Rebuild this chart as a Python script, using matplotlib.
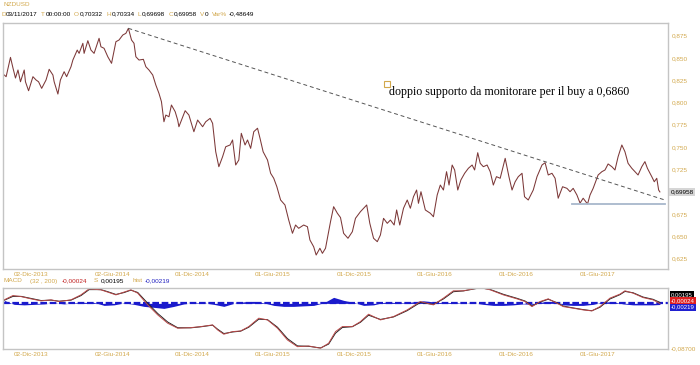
import numpy as np
import matplotlib.pyplot as plt
from matplotlib.ticker import FuncFormatter

# bar index (trading days from start) and close price
day = [0, 3, 10, 14, 18, 22, 26, 32, 34, 39,
       46, 51, 55, 60, 67, 72, 78, 80, 86, 90,
       96, 100, 107, 110, 117, 120, 126, 128, 134, 139,
       144, 152, 155, 160, 166, 172, 179, 184, 190, 195,
       199, 204, 208, 211, 216, 223, 227, 232, 238, 243,
       248, 252, 256, 259, 264, 268, 274, 278, 280, 290,
       296, 304, 310, 318, 323, 330, 334, 339, 344, 350,
       355, 362, 366, 371, 376, 380, 386, 390, 395, 400,
       406, 410, 415, 422, 427, 432, 437, 443, 450, 456,
       462, 467, 472, 480, 486, 490, 496, 500, 506, 510,
       515, 523, 528, 534, 539, 544, 551, 558, 563, 571,
       581, 586, 592, 598, 603, 608, 614, 619, 625, 629,
       634, 640, 646, 651, 656, 661, 664, 668, 675, 683,
       688, 694, 699, 704, 709, 713, 718, 722, 727, 732,
       738, 744, 750, 754, 759, 763, 768, 774, 779, 784,
       789, 795, 803, 809, 814, 819, 824, 830, 834, 840,
       848, 854, 862, 867, 872, 878, 883, 888, 895, 902,
       907, 912, 918, 923, 928, 935, 939, 944, 952, 958,
       963, 968, 974, 979, 984, 990, 995, 1000, 1006, 1011,
       1016, 1022, 1027, 1031, 1038, 1042, 1046, 1049, 1051]
close = [0.8309, 0.8290, 0.8507, 0.8387, 0.8275, 0.8365, 0.8233, 0.8365, 0.8233, 0.8132,
         0.8290, 0.8253, 0.8233, 0.8159, 0.8253, 0.8373, 0.8309, 0.8233, 0.8095, 0.8253,
         0.8346, 0.8290, 0.8402, 0.8477, 0.8589, 0.8552, 0.8665, 0.8552, 0.8694, 0.8589,
         0.8552, 0.8721, 0.8626, 0.8609, 0.8514, 0.8440, 0.8683, 0.8702, 0.8758, 0.8777,
         0.8833, 0.8702, 0.8665, 0.8514, 0.8477, 0.8485, 0.8402, 0.8365, 0.8309, 0.8196,
         0.8103, 0.8009, 0.7784, 0.7859, 0.7840, 0.7972, 0.7897, 0.7803, 0.7728, 0.7908,
         0.7859, 0.7672, 0.7803, 0.7728, 0.7784, 0.7822, 0.7766, 0.7447, 0.7279, 0.7391,
         0.7503, 0.7523, 0.7579, 0.7298, 0.7354, 0.7654, 0.7523, 0.7579, 0.7485, 0.7672,
         0.7711, 0.7598, 0.7447, 0.7354, 0.7205, 0.7149, 0.7054, 0.6905, 0.6849, 0.6680,
         0.6531, 0.6624, 0.6587, 0.6624, 0.6605, 0.6456, 0.6380, 0.6287, 0.6363, 0.6306,
         0.6363, 0.6661, 0.6830, 0.6756, 0.6708, 0.6531, 0.6475, 0.6549, 0.6699, 0.6774,
         0.6849, 0.6643, 0.6475, 0.6437, 0.6512, 0.6699, 0.6643, 0.6680, 0.6624, 0.6793,
         0.6624, 0.6812, 0.6905, 0.6812, 0.6942, 0.7017, 0.6868, 0.6998, 0.6793, 0.6756,
         0.6717, 0.6961, 0.7073, 0.7017, 0.7223, 0.7073, 0.7298, 0.7242, 0.7017, 0.7130,
         0.7205, 0.7261, 0.7298, 0.7242, 0.7436, 0.7317, 0.7279, 0.7298, 0.7223, 0.7073,
         0.7167, 0.7149, 0.7373, 0.7167, 0.7017, 0.7110, 0.7167, 0.7205, 0.6942, 0.6905,
         0.7017, 0.7167, 0.7298, 0.7324, 0.7186, 0.7205, 0.7149, 0.6925, 0.7054, 0.7036,
         0.6998, 0.7036, 0.6961, 0.6870, 0.6925, 0.6860, 0.6961, 0.7036, 0.7186, 0.7223,
         0.7242, 0.7310, 0.7279, 0.7242, 0.7391, 0.7523, 0.7447, 0.7317, 0.7261, 0.7223,
         0.7186, 0.7279, 0.7336, 0.7261, 0.7167, 0.7110, 0.7149, 0.7017, 0.69958]

# drawn lines
trend_day = [199, 1059]
trend_px = [0.8833, 0.6905]
support_day = [910, 1059]
support_px = [0.6860, 0.6860]

# MACD (32, 200) and signal
macd_day = [0, 14, 27, 43, 59, 75, 88, 107, 123, 136, 155, 166, 179, 192, 203, 214,
            230, 246, 262, 278, 299, 315, 334, 342, 352, 366, 379, 392, 408, 422, 438,
            454, 470, 488, 507, 520, 531, 542, 558, 571, 584, 603, 624, 646, 667, 688,
            704, 720, 736, 752, 763, 779, 800, 822, 835, 846, 859, 872, 886, 896, 912,
            928, 942, 955, 971, 987, 995, 1008, 1024, 1040, 1051]
macd = [0.0068, 0.0151, 0.0131, 0.0087, 0.0048, 0.0068, 0.0035, 0.0068, 0.0164, 0.0280,
        0.0261, 0.0217, 0.0164, 0.0217, 0.0261, 0.0197, -0.0029, -0.0222, -0.0383, -0.0479,
        -0.0468, -0.0448, -0.0416, -0.0512, -0.0595, -0.0545, -0.0532, -0.0448, -0.0286, -0.0319,
        -0.0479, -0.0706, -0.0835, -0.0822, -0.0866, -0.0769, -0.0545, -0.0448, -0.0448, -0.0352,
        -0.0209, -0.0319, -0.0255, -0.0126, 0.0035, -0.0029, 0.0101, 0.0242, 0.0242, 0.0280,
        0.0305, 0.0261, 0.0164, 0.0087, 0.0035, -0.0062, 0.0035, 0.0087, 0.0004, -0.0062,
        -0.0093, -0.0126, -0.0145, -0.0062, 0.0101, 0.0178, 0.0242, 0.0197, 0.0112, 0.0068,
        -0.00024]
signal = [0.0060, 0.0135, 0.0135, 0.0095, 0.0055, 0.0062, 0.0042, 0.0062, 0.0150, 0.0265,
          0.0265, 0.0225, 0.0172, 0.0208, 0.0255, 0.0210, 0.0002, -0.0195, -0.0360, -0.0470,
          -0.0472, -0.0452, -0.0420, -0.0498, -0.0582, -0.0552, -0.0536, -0.0460, -0.0305, -0.0314,
          -0.0460, -0.0680, -0.0820, -0.0828, -0.0860, -0.0785, -0.0575, -0.0465, -0.0450, -0.0365,
          -0.0228, -0.0310, -0.0262, -0.0140, 0.0018, -0.0020, 0.0085, 0.0225, 0.0240, 0.0275,
          0.0300, 0.0268, 0.0175, 0.0097, 0.0045, -0.0050, 0.0025, 0.0080, 0.0012, -0.0052,
          -0.0088, -0.0120, -0.0142, -0.0075, 0.0085, 0.0168, 0.0230, 0.0205, 0.0122, 0.0078,
          0.00195]

hist_day = list(range(0, 1041, 16)) + [1051]
hist = [0.0058, -0.0019, -0.0029, -0.0019, -0.0010, 0.0010, -0.0010, 0.0010, 0.0019, 0.0019,
        -0.0039, -0.0029, 0.0010, -0.0019, -0.0058, -0.0077, -0.0097, -0.0058, -0.0010, 0.0010,
        0.0010, -0.0019, -0.0058, 0.0000, 0.0029, 0.0039, 0.0010, -0.0039, -0.0058, -0.0058,
        -0.0048, -0.0039, 0.0010, 0.0116, 0.0058, 0.0019, -0.0039, -0.0029, 0.0019, 0.0019,
        0.0010, 0.0029, 0.0048, 0.0029, 0.0010, 0.0019, 0.0000, 0.0010, -0.0019, -0.0039,
        -0.0039, -0.0029, -0.0010, -0.0019, 0.0029, 0.0039, -0.0029, -0.0039, -0.0039, -0.0019,
        0.0029, 0.0029, -0.0010, -0.0029, -0.0029, -0.0029, -0.00219]

tick_day = [15, 145, 274, 402, 533, 662, 792, 923]
tick_lab = ["02-Dic-2013", "02-Giu-2014", "01-Dic-2014", "01-Giu-2015",
            "01-Dic-2015", "01-Giu-2016", "01-Dic-2016", "01-Giu-2017"]
price_ticks = [0.625, 0.650, 0.675, 0.725, 0.750, 0.775, 0.800, 0.825, 0.850, 0.875]

gold = '#d2a84c'
frame = '#c4c4c4'
sans = 'Liberation Sans'
fs = 4.6

fig = plt.figure(figsize=(7, 3.65), dpi=100)
ax = fig.add_axes([3/700, 96/365, 665/700, 246/365])
ax2 = fig.add_axes([3/700, 16/365, 665/700, 61.5/365])

comma = FuncFormatter(lambda v, p: f"{v:.3f}".replace('.', ','))

for a in (ax, ax2):
    for s in a.spines.values():
        s.set_color(frame)
        s.set_linewidth(1)
    a.yaxis.tick_right()
    a.tick_params(axis='both', length=0, labelsize=fs, colors=gold, pad=2)
    a.set_xlim(-2, 1064)
    a.set_xticks(tick_day)
    a.set_xticklabels(tick_lab, ha='left', family=sans)

# price panel
ax.plot(day, close, color='#7c3838', lw=0.75)
ax.plot(trend_day, trend_px, color='#555555', lw=0.7, dashes=(4, 3))
ax.plot(support_day, support_px, color='#a8b8cc', lw=1.3)
ax.set_ylim(0.6130, 0.8893)
ax.set_yticks(price_ticks)
ax.yaxis.set_major_formatter(comma)
ax.tick_params(axis='y', pad=3)
for lab in ax.get_yticklabels():
    lab.set_family(sans)
ax.text(1.004, 0.69958, "0,69958", transform=ax.get_yaxis_transform(),
        fontsize=fs, family=sans, color='black', va='center', ha='left',
        bbox=dict(facecolor='#d6d6d6', edgecolor='none', pad=1.2))

ax.plot([614], [0.8208], marker='s', ms=5, mfc='none', mec=gold, mew=0.8)
ax.text(616, 0.8115, "doppio supporto da monitorare per il buy a 0,6860",
        family='Liberation Serif', fontsize=8.6, color='black', va='center', ha='left')

# MACD panel
ax2.fill_between(hist_day, 0, hist, color='#1a1acc', lw=0)
ax2.axhline(0, color='#1a1acc', lw=1.6, dashes=(3, 1.2))
ax2.plot(macd_day, signal, color='#222222', lw=0.7)
ax2.plot(macd_day, macd, color='#b84848', lw=0.7)
ax2.set_ylim(-0.0880, 0.0306)
ax2.set_yticks([])
ax2.text(1.004, 0.0, "-0,08700", transform=ax2.transAxes, fontsize=fs, family=sans,
         color=gold, va='center', ha='left')
for yy, txt, bg in [(0.88, "0,00195", 'black'), (0.78, "-0,00024", '#e02020'),
                    (0.68, "-0,00219", '#2020d0')]:
    ax2.text(1.004, yy, txt, transform=ax2.transAxes, fontsize=4.3, family=sans,
             color='white', va='center', ha='left',
             bbox=dict(facecolor=bg, edgecolor='none', pad=0.8))


# header lines, each piece placed right after the previous one
def row(x, y, parts):
    t = fig.text(x/700, 1 - y/365, parts[0][0], fontsize=fs, family=sans,
                 color=parts[0][1], va='center', ha='left')
    for txt, col, gap in parts[1:]:
        t = ax.annotate(txt, xy=(1, 0.5), xycoords=t, xytext=(gap * 0.72, 0),
                        textcoords='offset points', fontsize=fs, family=sans,
                        color=col, va='center', ha='left', annotation_clip=False)


row(3, 5, [("NZDUSD", gold)])
row(1, 14, [("D", gold), ("03/11/2017", 'black', 0.5), ("T", gold, 3.5), ("00:00:00", 'black', 0.5),
            ("O", gold, 3.5), ("0,70332", 'black', 0.5), ("H", gold, 3.5), ("0,70334", 'black', 0.5),
            ("L", gold, 3.5), ("0,69698", 'black', 0.5), ("C", gold, 3.5), ("0,69958", 'black', 0.5),
            ("V", gold, 3.5), ("0", 'black', 0.5), ("Var%", gold, 3.5), ("-0,48649", 'black', 1)])
row(4, 281, [("MACD", gold), ("(32 , 200)", gold, 7), ("-0,00024", '#c02020', 5),
             ("S", gold, 6), ("0,00195", 'black', 3), ("hist", gold, 8),
             ("-0,00219", '#2020c0', 2)])

fig.savefig("out.png", dpi=100)
